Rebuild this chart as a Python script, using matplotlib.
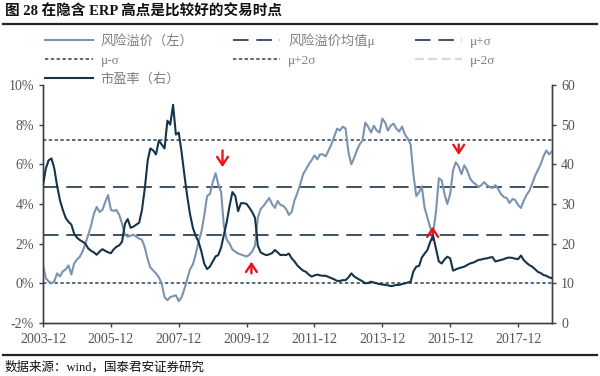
import matplotlib
matplotlib.use("Agg")
import matplotlib.pyplot as plt
from matplotlib.lines import Line2D
import pandas as pd

plt.rcParams['font.family'] = ['Liberation Serif', 'Noto Sans CJK SC', 'DejaVu Sans']

# ---------------- data (monthly, 2003-12 .. 2018-12) ----------------
dates = pd.date_range('2003-12-31', periods=181, freq='ME')

erp = [0.9, 0.25, 0.1, 0.0, 0.1, 0.5, 0.35, 0.6, 0.7, 0.9, 0.45, 1.0,
       1.2, 1.35, 1.6, 2.0, 2.45, 2.9, 3.5, 3.85, 3.6, 3.7, 4.1, 4.45,
       3.7, 3.65, 3.7, 3.45, 3.0, 2.45, 2.35, 2.4, 2.45, 2.35, 2.25, 2.2,
       1.8, 1.2, 0.8, 0.65, 0.5, 0.3, 0.0, -0.7, -0.85, -0.7, -0.65, -0.6,
       -0.9, -0.7, -0.3, 0.2, 0.7, 0.95, 1.45, 2.1, 2.6, 3.4, 4.4, 4.5,
       5.1, 5.55, 5.0, 4.6, 2.9, 2.2, 2.0, 1.7, 1.6, 1.5, 1.45, 1.4,
       1.35, 1.45, 1.6, 1.9, 3.3, 3.75, 3.9, 4.1, 4.3, 4.0, 3.8, 4.15,
       3.95, 3.9, 3.75, 3.45, 3.6, 4.2, 4.55, 5.0, 5.5, 5.75, 6.0, 6.2,
       6.45, 6.25, 6.5, 6.5, 6.4, 6.7, 7.0, 7.4, 7.8, 7.7, 7.9, 7.8,
       6.6, 6.0, 6.3, 6.7, 7.0, 7.2, 8.1, 7.9, 7.6, 7.95, 7.7, 7.6,
       8.3, 8.1, 7.7, 7.95, 8.05, 7.8, 7.65, 7.9, 7.5, 7.3, 7.0, 5.5,
       4.4, 4.6, 4.9, 3.8, 3.3, 2.8, 2.5, 3.6, 5.3, 5.2, 4.5, 4.0,
       4.5, 5.7, 6.1, 5.9, 5.5, 5.95, 5.7, 5.3, 5.1, 5.0, 4.85, 4.95,
       5.1, 4.95, 4.85, 4.8, 4.95, 4.75, 4.5, 4.35, 4.3, 4.05, 4.25, 4.2,
       3.95, 3.8, 4.15, 4.45, 4.65, 5.0, 5.4, 5.7, 6.0, 6.4, 6.7, 6.5,
       6.65]

pe = [34.8, 39.0, 41.0, 41.5, 39.0, 34.5, 31.0, 28.5, 26.5, 25.5, 24.8, 22.5,
      21.5, 20.9, 20.5, 20.0, 18.8, 18.2, 17.8, 17.2, 18.0, 18.6, 18.2, 17.8,
      17.6, 18.6, 19.2, 19.6, 20.5, 25.0, 26.2, 24.0, 24.3, 24.8, 25.3, 28.5,
      34.0, 41.0, 44.0, 43.5, 42.5, 46.0, 45.0, 44.0, 51.0, 50.0, 55.0, 47.5,
      48.0, 43.0, 37.5, 32.0, 27.5, 24.0, 22.0, 20.5, 18.0, 15.0, 13.6, 14.2,
      15.5, 16.8, 17.1, 19.0, 22.2, 25.5, 29.5, 33.0, 32.0, 28.2, 30.2, 30.2,
      30.0, 29.0, 28.0, 26.5, 19.5, 17.8, 17.4, 17.1, 17.3, 17.6, 18.4, 17.8,
      17.1, 17.2, 17.1, 17.5, 16.3, 15.5, 14.5, 13.8, 13.2, 12.9, 12.2, 11.7,
      12.0, 12.2, 12.0, 11.9, 11.9, 11.6, 11.3, 11.0, 10.6, 10.6, 10.8, 10.8,
      11.5, 12.5, 11.8, 11.3, 10.9, 10.5, 10.0, 10.1, 10.4, 10.2, 10.0, 9.8,
      9.7, 9.6, 9.5, 9.3, 9.4, 9.6, 9.6, 9.8, 10.0, 10.2, 10.4, 13.0,
      14.2, 14.4, 16.5, 17.5, 18.4, 20.5, 22.0, 18.8, 15.5, 15.0, 16.0, 16.7,
      16.3, 13.2, 13.5, 13.8, 14.0, 14.2, 14.6, 15.0, 15.2, 15.5, 15.9, 16.0,
      16.2, 16.3, 16.5, 16.6, 15.5, 15.7, 15.9, 16.1, 16.4, 16.5, 16.4, 16.2,
      16.1, 17.0, 15.9, 15.2, 14.6, 14.2, 13.6, 12.9, 12.6, 12.1, 11.9, 11.5,
      11.3]

ref_labels = ['风险溢价均值μ', 'μ+σ', 'μ-σ', 'μ+2σ', 'μ-2σ']
ref_levels = [4.84, 2.44, 0.03, 7.25, -2.38]

arrow_dates = ['2009-04-15', '2016-04-01', '2010-02-20', '2015-06-25']
arrow_tips = [5.86, 6.47, 1.09, 2.86]
arrow_tails = [6.7, 7.0, 0.5, 2.2]

left_ticks = [-2, 0, 2, 4, 6, 8, 10]
right_ticks = [0, 10, 20, 30, 40, 50, 60]
xtick_years = [2003, 2005, 2007, 2009, 2011, 2013, 2015, 2017]

# ---------------- figure ----------------
fig = plt.figure(figsize=(6.0, 3.76), dpi=100)
ax = fig.add_axes([0.0717, 0.141, 0.8483, 0.633])
ax2 = ax.twinx()

c_erp = '#7b93b0'
c_pe = '#15344b'
c_ref = '#3b536b'
c_dot = '#2c4058'

h_erp, = ax.plot(dates, erp, color=c_erp, lw=1.5, label='风险溢价（左）', zorder=3)

styles = [dict(color=c_ref, lw=1.4, dashes=(8, 4)),
          dict(color=c_ref, lw=1.4, dashes=(8, 4)),
          dict(color=c_dot, lw=1.1, dashes=(2.2, 1.6)),
          dict(color=c_dot, lw=1.1, dashes=(2.2, 1.6)),
          dict(color='#d9d9d9', lw=1.6, dashes=(4, 2))]
ref_handles = []
for lab, lev, st in zip(ref_labels, ref_levels, styles):
    h = ax.axhline(lev, label=lab, zorder=2, **st)
    ref_handles.append(h)

h_pe, = ax2.plot(dates, pe, color=c_pe, lw=1.5, label='市盈率（右）', zorder=4)

for d, tip, tail in zip(arrow_dates, arrow_tips, arrow_tails):
    ax.annotate('', xy=(pd.Timestamp(d), tip), xytext=(pd.Timestamp(d), tail),
                arrowprops=dict(arrowstyle='->,head_length=0.45,head_width=0.3',
                                mutation_scale=13, color='#e8141a', lw=1.7,
                                shrinkA=0, shrinkB=0),
                zorder=6)

ax.set_ylim(-2, 10)
ax2.set_ylim(0, 60)
ax.set_xlim(pd.Timestamp('2003-12-31'), pd.Timestamp('2018-12-31'))
ax.set_yticks(left_ticks)
ax.set_yticklabels([f'{v}%' for v in left_ticks])
ax2.set_yticks(right_ticks)
ax.set_xticks([pd.Timestamp(f'{y}-12-31') for y in xtick_years])
ax.set_xticklabels([f'{y}-12' for y in xtick_years])

tick_col = '#555555'
for a in (ax, ax2):
    a.spines['top'].set_visible(False)
    for s in ('left', 'right', 'bottom'):
        a.spines[s].set_color('#404040')
        a.spines[s].set_linewidth(1.0)
    a.tick_params(colors='#404040', labelcolor=tick_col, labelsize=10,
                  direction='out', length=3, width=1)
ax.tick_params(axis='x', pad=4)

# legend (row-wise order)
A, B, C, D, E, F = h_erp, *ref_handles
G = h_pe
hs = [A, D, G, B, E, C, F]
leg = fig.legend(hs, [h.get_label() for h in hs], ncol=3, loc='upper left',
                 bbox_to_anchor=(0.075, 0.912), frameon=False, fontsize=9.5,
                 handlelength=3.6, handletextpad=0.6, columnspacing=3.0,
                 labelspacing=0.5, borderaxespad=0, borderpad=0)
for t in leg.get_texts():
    t.set_color('#7f7f7f')

# title and footer
fig.text(0.008, 0.968, '图 28 在隐含 ERP 高点是比较好的交易时点', fontsize=10.5,
         fontweight='bold', va='center', ha='left', color='#111111')
fig.add_artist(Line2D([0.005, 0.995], [0.937, 0.937], color='#222222', lw=1.6))
fig.add_artist(Line2D([0.005, 0.995], [0.055, 0.055], color='#222222', lw=1.6))
fig.text(0.008, 0.022, '数据来源：wind，国泰君安证券研究', fontsize=9,
         va='center', ha='left', color='#111111')

fig.savefig('out.png', dpi=100)
